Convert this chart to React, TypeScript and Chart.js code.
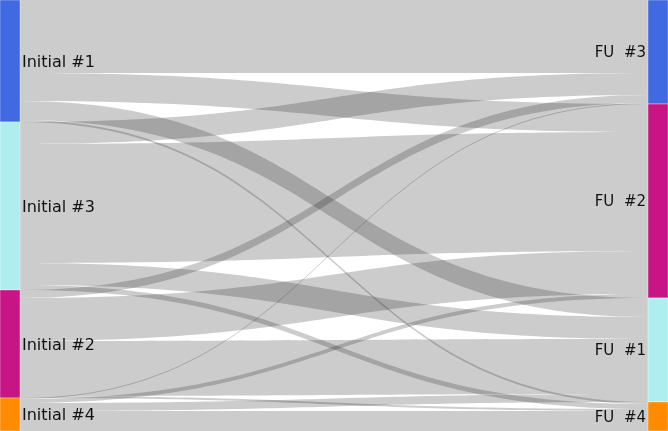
import { useEffect, useRef } from "react";
import { Chart, registerables } from "chart.js";

Chart.register(...registerables);

const W = 668;
const H = 431;
const NODE_W = 20;

// left column (initial visit), top to bottom
const sourceLabels = ["Initial #1", "Initial #3", "Initial #2", "Initial #4"];
const sourceColors = ["#4169e1", "#afeeee", "#c71585", "#ff8c00"];

// right column (follow-up), top to bottom
const targetLabels = ["FU  #3", "FU  #2", "FU  #1", "FU  #4"];
const targetColors = ["#4169e1", "#c71585", "#afeeee", "#ff8c00"];

// links: index into sourceLabels / targetLabels, with the flow size
const linkSource = [0, 0, 0, 0, 1, 1, 1, 1, 2, 2, 2, 2, 3, 3, 3, 3];
const linkTarget = [0, 1, 2, 3, 0, 1, 2, 3, 0, 1, 2, 3, 0, 1, 2, 3];
const linkValue = [73, 28, 19, 2, 22, 119, 22, 5, 8, 43, 55, 2, 1, 4, 8, 20];

const TOTAL = linkValue.reduce((a, b) => a + b, 0);

function totals(n: number, idx: number[]): number[] {
  const out = new Array(n).fill(0);
  idx.forEach((k, i) => { out[k] += linkValue[i]; });
  return out;
}

function starts(tot: number[]): number[] {
  const out: number[] = [];
  let acc = 0;
  tot.forEach((t) => { out.push(acc); acc += t; });
  return out;
}

const sankeyPlugin = {
  id: "sankey",
  afterDatasetsDraw(chart: Chart) {
    const { ctx } = chart;
    const xs = chart.scales.x;
    const ys = chart.scales.y;

    const sTot = totals(sourceLabels.length, linkSource);
    const tTot = totals(targetLabels.length, linkTarget);
    const sStart = starts(sTot);
    const tStart = starts(tTot);

    const xL = xs.getPixelForValue(0);
    const xR = xs.getPixelForValue(1);
    const xa = xL + NODE_W;
    const xb = xR - NODE_W;
    const xm = (xa + xb) / 2;

    // where each link sits inside its source and its target node
    const ids = linkValue.map((_, i) => i);
    const sy = new Array(ids.length).fill(0);
    const ty = new Array(ids.length).fill(0);
    const sOff = [...sStart];
    const tOff = [...tStart];
    [...ids]
      .sort((a, b) => linkSource[a] - linkSource[b] || linkTarget[a] - linkTarget[b])
      .forEach((i) => { sy[i] = sOff[linkSource[i]]; sOff[linkSource[i]] += linkValue[i]; });
    [...ids]
      .sort((a, b) => linkTarget[a] - linkTarget[b] || linkSource[a] - linkSource[b])
      .forEach((i) => { ty[i] = tOff[linkTarget[i]]; tOff[linkTarget[i]] += linkValue[i]; });

    ctx.save();

    // ribbons
    ctx.fillStyle = "rgba(0,0,0,0.2)";
    ids.forEach((i) => {
      const v = linkValue[i];
      const a0 = ys.getPixelForValue(sy[i]);
      const a1 = ys.getPixelForValue(sy[i] + v);
      const b0 = ys.getPixelForValue(ty[i]);
      const b1 = ys.getPixelForValue(ty[i] + v);
      ctx.beginPath();
      ctx.moveTo(xa, a0);
      ctx.bezierCurveTo(xm, a0, xm, b0, xb, b0);
      ctx.lineTo(xb, b1);
      ctx.bezierCurveTo(xm, b1, xm, a1, xa, a1);
      ctx.closePath();
      ctx.fill();
    });

    // nodes
    ctx.lineWidth = 0.5;
    ctx.strokeStyle = "rgba(255,255,255,0.7)";
    sourceLabels.forEach((_, k) => {
      const top = ys.getPixelForValue(sStart[k]);
      const bot = ys.getPixelForValue(sStart[k] + sTot[k]);
      ctx.fillStyle = sourceColors[k];
      ctx.fillRect(xL, top, NODE_W, bot - top);
      ctx.strokeRect(xL, top, NODE_W, bot - top);
    });
    targetLabels.forEach((_, k) => {
      const top = ys.getPixelForValue(tStart[k]);
      const bot = ys.getPixelForValue(tStart[k] + tTot[k]);
      ctx.fillStyle = targetColors[k];
      ctx.fillRect(xb, top, NODE_W, bot - top);
      ctx.strokeRect(xb, top, NODE_W, bot - top);
    });

    // labels
    ctx.fillStyle = "#111";
    ctx.textBaseline = "middle";
    ctx.textAlign = "left";
    ctx.font = "16px 'DejaVu Sans', sans-serif";
    sourceLabels.forEach((lab, k) => {
      const mid = ys.getPixelForValue(sStart[k] + sTot[k] / 2);
      ctx.fillText(lab, xa + 2, mid + 1.5);
    });
    ctx.textAlign = "right";
    ctx.font = "15px 'DejaVu Sans', sans-serif";
    targetLabels.forEach((lab, k) => {
      const mid = ys.getPixelForValue(tStart[k] + tTot[k] / 2);
      ctx.fillText(lab, xb - 2, mid + 1.5);
    });

    ctx.restore();
  },
};

export default function App() {
  const canvasRef = useRef<HTMLCanvasElement>(null);

  useEffect(() => {
    if (!canvasRef.current) return;
    const chart = new Chart(canvasRef.current, {
      type: "scatter",
      data: { datasets: [{ data: [] }] },
      options: {
        animation: false,
        responsive: true,
        maintainAspectRatio: false,
        layout: { padding: 0 },
        plugins: { legend: { display: false }, tooltip: { enabled: false } },
        scales: {
          x: { type: "linear", min: 0, max: 1, display: false },
          y: { type: "linear", min: 0, max: TOTAL, reverse: true, display: false },
        },
      },
      plugins: [sankeyPlugin],
    });
    return () => chart.destroy();
  }, []);

  return (
    <div style={{ position: "absolute", left: 0, top: 0, width: W, height: H, background: "#fff" }}>
      <canvas ref={canvasRef} />
    </div>
  );
}
